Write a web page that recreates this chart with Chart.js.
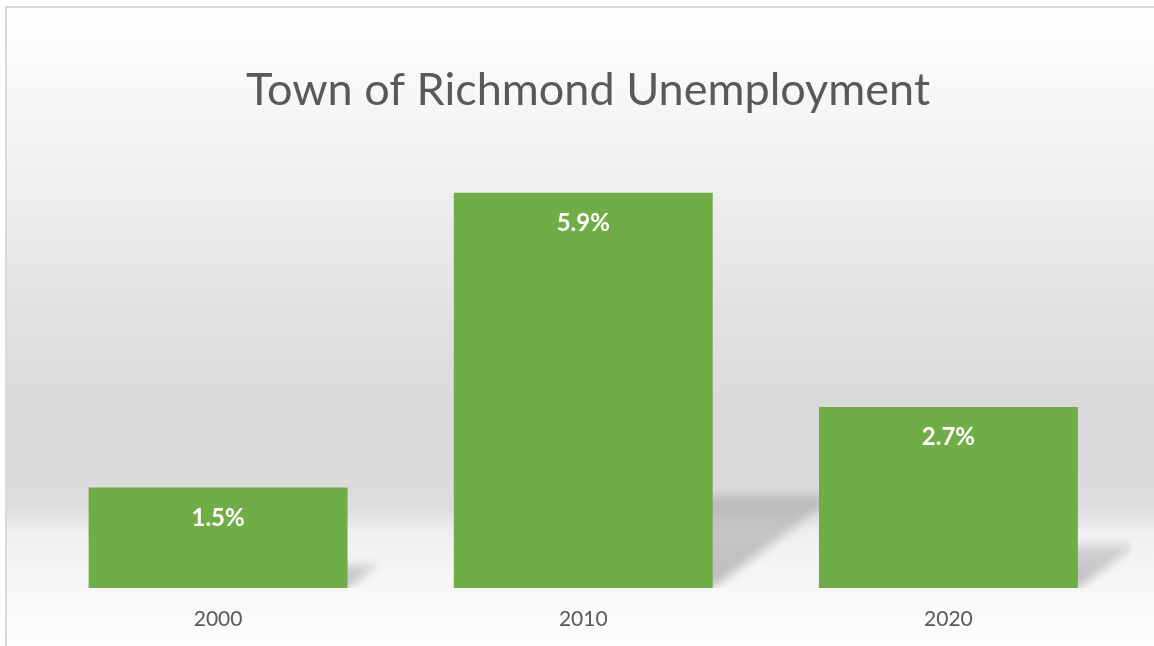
<!DOCTYPE html>
<html>
<head>
<meta charset="utf-8">
<title>Town of Richmond Unemployment</title>
<script src="https://cdn.jsdelivr.net/npm/chart.js@4.4.0/dist/chart.umd.min.js"></script>
<style>
  html, body { margin: 0; padding: 0; background: #ffffff; }
  #wrap { width: 1154px; height: 646px; }
  canvas { display: block; }
</style>
</head>
<body>
<div id="wrap"><canvas id="chart" width="1154" height="646"></canvas></div>
<script>
// Data
const categories = ['2000', '2010', '2020'];
const unemploymentRate = [1.5, 5.9, 2.7];
const chartTitle = 'Town of Richmond Unemployment';
const valueAxisMin = 0;
const valueAxisMax = 7;

const FONT = 'Lato, "Open Sans", "Noto Sans", sans-serif';
const TEXT_GREY = '#595959';
const BAR_GREEN = '#70AD47';

// Panel: soft vertical grey gradient, light frame and title
const panelBackground = {
  id: 'panelBackground',
  beforeDraw(chart) {
    const { ctx, width, height } = chart;
    ctx.save();
    ctx.fillStyle = '#ffffff';
    ctx.fillRect(0, 0, width, height);

    const top = 7;
    const span = height - top;
    const at = (y) => Math.min(1, Math.max(0, (y - top) / span));
    const g = ctx.createLinearGradient(0, top, 0, height);
    g.addColorStop(at(7), '#ffffff');
    g.addColorStop(at(110), '#f6f6f6');
    g.addColorStop(at(200), '#eeeeee');
    g.addColorStop(at(300), '#e3e3e3');
    g.addColorStop(at(410), '#d9d9d9');
    g.addColorStop(at(470), '#dadada');
    g.addColorStop(at(508), '#dddddd');
    g.addColorStop(at(532), '#efefef');
    g.addColorStop(at(575), '#f6f6f6');
    g.addColorStop(at(646), '#fdfdfd');
    ctx.fillStyle = g;
    ctx.fillRect(6, top, width - 6, height - top);

    ctx.strokeStyle = '#d9d9d9';
    ctx.lineWidth = 2;
    ctx.beginPath();
    ctx.moveTo(6, height);
    ctx.lineTo(6, 7);
    ctx.lineTo(width, 7);
    ctx.stroke();

    ctx.fillStyle = TEXT_GREY;
    ctx.font = '45px ' + FONT;
    ctx.textAlign = 'center';
    ctx.textBaseline = 'alphabetic';
    ctx.fillText(chartTitle, 588, 105);
    ctx.restore();
  }
};

// Perspective shadows cast up and to the right from each bar's base
const barShadows = {
  id: 'barShadows',
  beforeDatasetsDraw(chart) {
    const { ctx, chartArea } = chart;
    const meta = chart.getDatasetMeta(0);
    ctx.save();
    ctx.beginPath();
    ctx.rect(chartArea.left, chartArea.top, chartArea.right - chartArea.left, chartArea.bottom - chartArea.top);
    ctx.clip();
    ctx.filter = 'blur(5px)';
    meta.data.forEach((bar) => {
      const { x, y, base, width } = bar.getProps(['x', 'y', 'base', 'width'], true);
      const left = x - width / 2;
      const right = x + width / 2;
      const h = base - y;
      const k = 0.235 * h;
      const s = 1.35 * k;
      const grad = ctx.createLinearGradient(0, base, 0, base - k);
      grad.addColorStop(0, 'rgba(0,0,0,0.24)');
      grad.addColorStop(1, 'rgba(0,0,0,0.13)');
      ctx.fillStyle = grad;
      ctx.beginPath();
      ctx.moveTo(left, base);
      ctx.lineTo(right, base);
      ctx.lineTo(right + s, base - k);
      ctx.lineTo(left + s, base - k);
      ctx.closePath();
      ctx.fill();
    });
    ctx.restore();
  }
};

// Value labels inside the top of each bar
const barValueLabels = {
  id: 'barValueLabels',
  afterDatasetsDraw(chart) {
    const { ctx } = chart;
    const meta = chart.getDatasetMeta(0);
    const values = chart.data.datasets[0].data;
    ctx.save();
    ctx.fillStyle = '#ffffff';
    ctx.font = 'bold 24px ' + FONT;
    ctx.textAlign = 'center';
    ctx.textBaseline = 'alphabetic';
    meta.data.forEach((bar, i) => {
      const { x, y } = bar.getProps(['x', 'y'], true);
      ctx.fillText(values[i].toFixed(1) + '%', x, y + 38);
    });
    ctx.restore();
  }
};

new Chart(document.getElementById('chart'), {
  type: 'bar',
  data: {
    labels: categories,
    datasets: [{
      data: unemploymentRate,
      backgroundColor: BAR_GREEN,
      borderWidth: 0,
      barPercentage: 0.709,
      categoryPercentage: 1.0
    }]
  },
  options: {
    responsive: false,
    devicePixelRatio: 1,
    animation: false,
    layout: { padding: { top: 119, left: 35.5, right: 23, bottom: 0 } },
    plugins: {
      legend: { display: false },
      tooltip: { enabled: false },
      title: { display: false }
    },
    scales: {
      x: {
        grid: { display: false, drawTicks: false },
        border: { display: false },
        ticks: {
          color: TEXT_GREY,
          font: { family: FONT, size: 21 },
          padding: 19
        },
        afterFit(scale) { scale.height = 58; }
      },
      y: {
        display: false,
        min: valueAxisMin,
        max: valueAxisMax
      }
    }
  },
  plugins: [panelBackground, barShadows, barValueLabels]
});
</script>
</body>
</html>
